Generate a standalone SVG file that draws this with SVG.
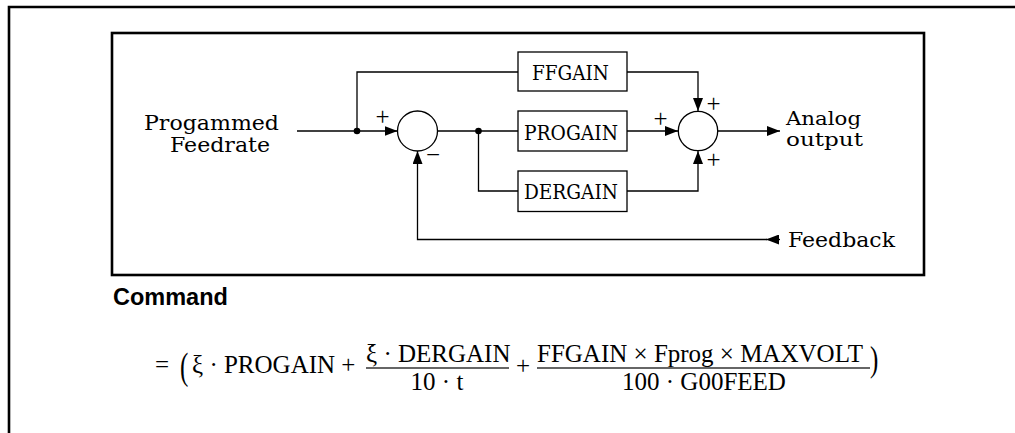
<svg xmlns="http://www.w3.org/2000/svg" width="1015" height="433" viewBox="0 0 1015 433">
<defs>
<style>
.frame{fill:none;stroke:#000;stroke-width:2.6}
.box{fill:#fff;stroke:#000;stroke-width:1.3}
.ln{fill:none;stroke:#000;stroke-width:1.3}
.lbl{font-family:"DejaVu Serif",serif;font-size:20px;fill:#000}
.lbs{font-family:"DejaVu Serif",serif;font-size:18.5px;fill:#000}
.sgn{font-family:"Liberation Serif",serif;font-size:25px;fill:#000}
.cmd{font-family:"Liberation Sans",Arial,sans-serif;font-weight:bold;font-size:23.5px;fill:#000}
.eq{font-family:"Liberation Serif","Times New Roman",serif;font-size:25px;fill:#000}
.bar{stroke:#333;stroke-width:1.4}
</style>
<marker id="ah" viewBox="0 0 13 10" refX="13" refY="5" markerWidth="13" markerHeight="10" markerUnits="userSpaceOnUse" orient="auto">
<path d="M0,0 L13,5 L0,10 Z" fill="#000"/>
</marker>
</defs>
<rect width="1015" height="433" fill="#fff"/>
<path class="frame" d="M9,433 V7 H1015"/>
<rect class="frame" x="112" y="33" width="812" height="242"/>

<g id="connectors">
<path class="ln" d="M297,131 H397.5" marker-end="url(#ah)"/>
<path class="ln" d="M357,131 V72 H518"/>
<path class="ln" d="M627,72 H698 V111" marker-end="url(#ah)"/>
<path class="ln" d="M437.5,131 H518"/>
<path class="ln" d="M478.5,131 V191 H518"/>
<path class="ln" d="M627,131 H678" marker-end="url(#ah)"/>
<path class="ln" d="M627,191 H698 V151" marker-end="url(#ah)"/>
<path class="ln" d="M718,131 H780" marker-end="url(#ah)"/>
<path class="ln" d="M780,239.5 H766" marker-end="url(#ah)"/>
<path class="ln" d="M767,239.5 H417.5 V151" marker-end="url(#ah)"/>
<circle cx="357" cy="131" r="3.3" fill="#000"/>
<circle cx="478.5" cy="131" r="3.3" fill="#000"/>
</g>

<g id="input-label">
<text class="lbl" x="144" y="130" textLength="135" lengthAdjust="spacingAndGlyphs">Progammed</text>
<text class="lbl" x="170" y="152" textLength="100" lengthAdjust="spacingAndGlyphs">Feedrate</text>
</g>

<g id="sum1">
<circle class="box" cx="417.5" cy="131" r="20"/>
<text class="sgn" x="382.5" y="124.5" text-anchor="middle">+</text>
<text class="sgn" x="433" y="163" text-anchor="middle">−</text>
</g>

<g id="ffgain">
<rect class="box" x="518" y="52" width="109" height="39"/>
<text class="lbl" x="532" y="79.5" textLength="77" lengthAdjust="spacingAndGlyphs">FFGAIN</text>
</g>
<g id="progain">
<rect class="box" x="518" y="111" width="109" height="40"/>
<text class="lbl" x="524" y="140" textLength="94" lengthAdjust="spacingAndGlyphs">PROGAIN</text>
</g>
<g id="dergain">
<rect class="box" x="518" y="171" width="109" height="40.5"/>
<text class="lbl" x="524" y="198.5" textLength="94" lengthAdjust="spacingAndGlyphs">DERGAIN</text>
</g>

<g id="sum2">
<circle class="box" cx="698" cy="131" r="19.7"/>
<text class="sgn" x="713.5" y="112.3" text-anchor="middle">+</text>
<text class="sgn" x="660.5" y="127.3" text-anchor="middle">+</text>
<text class="sgn" x="713.5" y="167.8" text-anchor="middle">+</text>
</g>

<g id="output-label">
<text class="lbs" x="786" y="125" textLength="75" lengthAdjust="spacingAndGlyphs">Analog</text>
<text class="lbs" x="786" y="145.5" textLength="77" lengthAdjust="spacingAndGlyphs">output</text>
</g>

<g id="feedback-label">
<text class="lbl" x="788" y="247" textLength="107" lengthAdjust="spacingAndGlyphs">Feedback</text>
</g>

<g id="formula">
<text class="cmd" x="113" y="305">Command</text>
<text class="eq" x="155" y="373">=</text>
<text class="eq" transform="translate(180,378.5) scale(1,1.5)">(</text>
<text class="eq" x="192" y="373">ξ · PROGAIN +</text>
<text class="eq" x="366" y="362">ξ · DERGAIN</text>
<circle cx="372.5" cy="345.5" r="1.3" fill="#000"/>
<line class="bar" x1="366" y1="368" x2="509" y2="368"/>
<text class="eq" x="437" y="390" text-anchor="middle">10 · t</text>
<text class="eq" x="516" y="374">+</text>
<text class="eq" x="537" y="362">FFGAIN × Fprog × MAXVOLT</text>
<line class="bar" x1="537" y1="368" x2="870" y2="368"/>
<text class="eq" x="704" y="390" text-anchor="middle">100 · G00FEED</text>
<text class="eq" transform="translate(870,371) scale(1,1.4)">)</text>
</g>
</svg>
